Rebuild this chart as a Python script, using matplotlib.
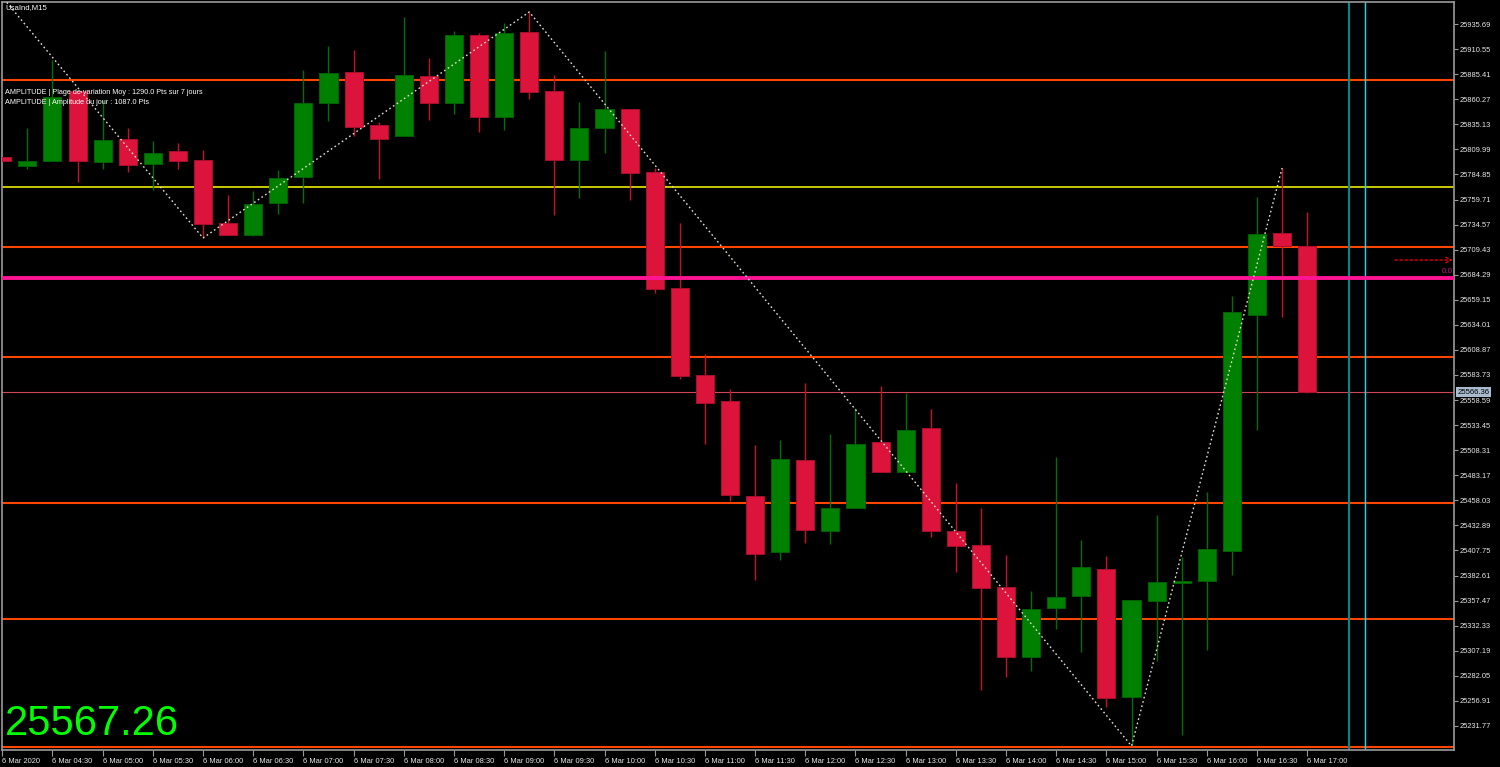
import matplotlib
matplotlib.use('Agg')
import matplotlib.pyplot as plt
import matplotlib.transforms as mtransforms
import numpy as np

plt.rcParams['font.family'] = ['Liberation Sans', 'DejaVu Sans']

# UsaInd M15, 6 Mar 2020, 04:00 -> 17:00 (one bar per 15 min)
opens = [25802.3, 25793.3, 25798.3, 25868.5, 25797.3, 25820.4, 25795.3, 25808.3, 25799.3, 25736.1,
         25724.1, 25756.2, 25782.3, 25856.5, 25887.6, 25834.4, 25823.4, 25883.6, 25856.5, 25924.7,
         25842.5, 25927.7, 25868.5, 25799.3, 25831.4, 25850.5, 25787.3, 25671.3, 25583.7, 25557.6,
         25462.3, 25406.1, 25498.4, 25427.2, 25450.3, 25516.5, 25486.4, 25530.5, 25427.2, 25413.2,
         25371.0, 25300.8, 25350.0, 25362.0, 25389.1, 25260.7, 25357.0, 25375.1, 25377.1, 25407.2,
         25643.9, 25726.1, 25713.1]
highs = [25802.3, 25831.4, 25899.6, 25868.5, 25859.5, 25831.4, 25818.4, 25816.4, 25809.4, 25764.2,
         25768.2, 25789.3, 25889.6, 25913.7, 25909.7, 25837.4, 25942.7, 25901.6, 25928.7, 25926.7,
         25936.7, 25947.8, 25884.6, 25857.5, 25908.6, 25850.5, 25791.3, 25736.1, 25604.7, 25569.6,
         25513.5, 25518.5, 25575.7, 25524.5, 25550.6, 25572.6, 25565.6, 25549.6, 25475.4, 25450.3,
         25403.1, 25367.0, 25501.4, 25418.2, 25402.1, 25358.0, 25443.3, 25401.1, 25466.3, 25662.9,
         25762.2, 25791.3, 25747.2]
lows = [25798.3, 25790.3, 25798.3, 25777.3, 25790.3, 25787.3, 25769.2, 25790.3, 25721.1, 25724.1,
        25723.1, 25745.2, 25756.2, 25838.4, 25823.4, 25780.3, 25823.4, 25839.4, 25845.5, 25827.4,
        25829.4, 25860.5, 25744.2, 25761.2, 25806.3, 25759.2, 25666.3, 25579.7, 25514.5, 25457.3,
        25378.1, 25398.1, 25415.2, 25414.2, 25450.3, 25486.4, 25486.4, 25421.2, 25386.1, 25267.7,
        25280.8, 25286.8, 25328.9, 25305.8, 25250.7, 25211.6, 25296.8, 25222.6, 25307.9, 25383.1,
        25528.5, 25641.9, 25565.4]
closes = [25798.3, 25798.3, 25862.5, 25798.3, 25819.4, 25794.3, 25806.3, 25798.3, 25735.1, 25724.1,
          25755.2, 25781.3, 25856.5, 25886.6, 25832.4, 25820.4, 25884.6, 25856.5, 25924.7, 25842.5,
          25926.7, 25867.5, 25799.3, 25831.4, 25850.5, 25786.3, 25670.3, 25582.7, 25555.6, 25463.3,
          25404.1, 25499.4, 25428.2, 25450.3, 25514.5, 25486.4, 25528.5, 25427.2, 25412.2, 25370.0,
          25300.8, 25349.0, 25361.0, 25391.1, 25259.7, 25358.0, 25376.1, 25377.1, 25409.2, 25646.9,
          25725.1, 25713.1, 25566.36]

# zigzag swing points (bar index, price)
zz_bar = [-1, 8, 21, 45, 51]
zz_price = [25993.0, 25721.1, 25947.8, 25211.6, 25791.3]

# horizontal levels
orange_levels = [25879.6, 25712.4, 25602.0, 25455.0, 25338.6, 25210.9]
yellow_level = 25772.5
magenta_level = 25681.3
bid = 25566.36
last_price = '25567.26'
arrow_level = 25699.0
vline_teal = 53.67
vline_cyan = 54.31

yticks = [25935.69, 25910.55, 25885.41, 25860.27, 25835.13, 25809.99, 25784.85, 25759.71,
          25734.57, 25709.43, 25684.29, 25659.15, 25634.01, 25608.87, 25583.73, 25558.59,
          25533.45, 25508.31, 25483.17, 25458.03, 25432.89, 25407.75, 25382.61, 25357.47,
          25332.33, 25307.19, 25282.05, 25256.91, 25231.77]
xtick_bars = [0] + list(range(2, 53, 2))
xtick_labels = ['6 Mar 2020', '6 Mar 04:30', '6 Mar 05:00', '6 Mar 05:30', '6 Mar 06:00',
                '6 Mar 06:30', '6 Mar 07:00', '6 Mar 07:30', '6 Mar 08:00', '6 Mar 08:30',
                '6 Mar 09:00', '6 Mar 09:30', '6 Mar 10:00', '6 Mar 10:30', '6 Mar 11:00',
                '6 Mar 11:30', '6 Mar 12:00', '6 Mar 12:30', '6 Mar 13:00', '6 Mar 13:30',
                '6 Mar 14:00', '6 Mar 14:30', '6 Mar 15:00', '6 Mar 15:30', '6 Mar 16:00',
                '6 Mar 16:30', '6 Mar 17:00']

o = np.array(opens); h = np.array(highs); l = np.array(lows); c = np.array(closes)
x = np.arange(len(o))
up = c >= o
body_col = np.where(up, '#008000', '#dc143c')
edge_col = np.where(up, '#006000', '#a8102c')
wick_col = np.where(up, '#007000', '#c8102e')

fig = plt.figure(figsize=(15, 7.67), dpi=100, facecolor='black')
ax = fig.add_axes([2/1500, 17/767, 1452/1500, 748/767])
ax.set_facecolor('black')

# levels
for lv in orange_levels:
    ax.axhline(lv, color='#ff4500', lw=1.5, zorder=1)
ax.axhline(yellow_level, color='#ffff00', lw=1.1, zorder=1)
ax.axhline(bid, color='#d04652', lw=0.8, zorder=1)
ax.axvline(vline_teal, color='#008b8b', lw=1.5, zorder=1)
ax.axvline(vline_cyan, color='#00e5ff', lw=1.0, zorder=1)

# candles
ax.vlines(x, l, h, colors=wick_col, lw=1, zorder=2)
hgt = c - o
hgt = np.where(np.abs(hgt) < 1.2, np.where(up, 1.2, -1.2), hgt)
ax.bar(x, hgt, bottom=o, width=0.72, color=body_col, edgecolor=edge_col, lw=0.7, zorder=3)

ax.axhline(magenta_level, color='#ff1493', lw=2.8, zorder=4)

# zigzag
ax.plot(zz_bar, zz_price, color='#e6ded0', lw=1.0, ls=(0, (1.2, 2.0)), zorder=5)

# small arrow and fibo label at the right
ax.annotate('', xy=(57.8, arrow_level), xytext=(55.5, arrow_level),
            arrowprops=dict(arrowstyle='->', color='red', ls=(0, (2, 2)), lw=0.9,
                            shrinkA=0, shrinkB=0))
ax.text(57.8, magenta_level + 3, '0.0', color='#c0107f', fontsize=5.8, ha='right', va='bottom')

ax.set_xlim(-0.01, 57.85)
ax.set_ylim(25207.6, 25957.8)

ax.yaxis.tick_right()
ax.set_yticks(yticks)
ax.set_yticklabels(['%.2f' % v for v in yticks])
ax.set_xticks(xtick_bars)
ax.set_xticklabels(xtick_labels, ha='left')
ax.tick_params(axis='y', length=3, pad=1, labelsize=5.4, labelcolor='#e8e8e8', color='#9a9a9a')
ax.tick_params(axis='x', length=4, pad=1.5, labelsize=5.4, labelcolor='#e8e8e8', color='#9a9a9a')
for s in ax.spines.values():
    s.set_color('#9a9a9a')
    s.set_linewidth(1.2)

# bid label on the price scale
tr = mtransforms.blended_transform_factory(ax.transAxes, ax.transData)
ax.text(1.0025, bid, '%.2f' % bid, transform=tr, fontsize=5.6, color='black', va='center',
        ha='left', bbox=dict(boxstyle='square,pad=0.2', fc='#a9bccf', ec='none'), clip_on=False)

fig.text(5/1500, 1 - 8/767, 'UsaInd,M15', color='white', fontsize=5.6, va='center')
fig.text(5/1500, 1 - 93/767, 'AMPLITUDE | Plage de variation Moy : 1290.0 Pts sur 7 jours',
         color='white', fontsize=5.2, va='center')
fig.text(5/1500, 1 - 102/767, 'AMPLITUDE | Amplitude du jour : 1087.0 Pts',
         color='white', fontsize=5.2, va='center')
fig.text(5/1500, 1 - 724/767, last_price, color='#00ff00', fontsize=30, va='center')

fig.savefig('out.png', dpi=100, facecolor='black')
